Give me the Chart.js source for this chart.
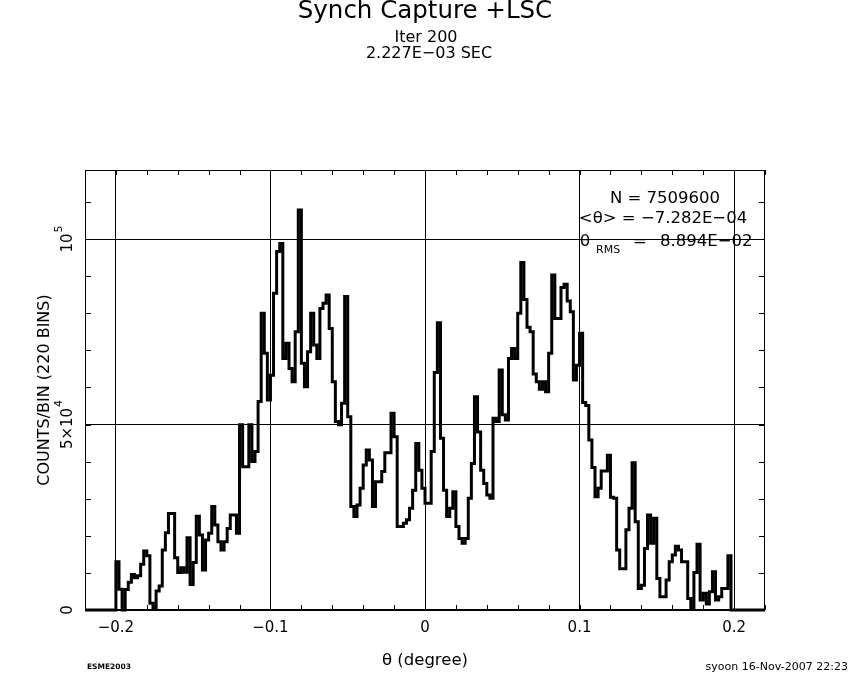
<!DOCTYPE html>
<html>
<head>
<meta charset="utf-8">
<script src="https://cdn.jsdelivr.net/npm/chart.js@4.4.0/dist/chart.umd.min.js"></script>
<style>
  html, body { margin: 0; padding: 0; background: #fff; }
  #wrap { width: 850px; height: 680px; }
</style>
</head>
<body>
<div id="wrap"><canvas id="histo" width="850" height="680"></canvas></div>
<script>
// 220 bins from -0.22 to 0.22 degree
const binLow = -0.22;
const binHigh = 0.22;
const binCount = 220;

// counts per bin from left to right
const counts = [
  0, 0, 0, 0, 0, 0, 0, 0, 0, 0, 0,
  13000, 5600, 0, 5500, 7500, 9600, 8700, 9200, 12300, 15900,
  14600, 1800, 500, 5100, 6500, 16200, 20800, 26000, 26000, 14100,
  10100, 11400, 10200, 19500, 6900, 12800, 25300, 20200, 10800, 18900,
  20700, 27900, 22900, 18400, 16200, 18400, 22000, 25600, 25600, 20700,
  49900, 38600, 38600, 49900, 40000, 42700, 56200, 80000, 69200, 56600,
  63300, 85400, 96600, 98800, 67800, 71900, 65100, 61500, 75000, 107800,
  66500, 60200, 69600, 80000, 71400, 67800, 81300, 82700, 84900, 75900,
  61500, 50800, 49900, 55700, 84500, 52100, 27900, 25200, 28300, 32800,
  39100, 43100, 40400, 27900, 34600, 34600, 37300, 42400, 42400, 53000,
  46700, 22500, 22500, 23400, 24300, 27400, 32300, 44900, 37700, 32800,
  28800, 28800, 42700, 64000, 77400, 46300, 32300, 25200, 27400, 31900,
  22500, 19300, 18000, 19300, 30100, 39500, 57500, 48000, 37700, 34100,
  31000, 30100, 51700, 50800, 64700, 52600, 51200, 67800, 70500, 67800,
  80000, 93700, 83700, 76200, 75000, 63600, 61500, 59500, 61500, 58800,
  69200, 90300, 78600, 78600, 86900, 87800, 83300, 80400, 62000, 66000,
  74600, 55900, 55100, 45800, 38400, 30500, 32800, 37500, 37500, 41700,
  30400, 30100, 16200, 11100, 11100, 21600, 27400, 39700, 23800, 5800,
  6700, 16600, 25600, 18000, 24700, 8500, 3600, 3600, 8100, 13000,
  14800, 17200, 16200, 13000, 13000, 3100, 400, 10100, 17700, 2700,
  4500, 1600, 4900, 10300, 2700, 3600, 5800, 5800, 14600, 0,
  0, 0, 0, 0, 0, 0, 0, 0, 0
];

const xTickValues = [-0.2, -0.1, 0, 0.1, 0.2];
const yTickValues = [0, 50000, 100000];
const yTickLabels = [['0', ''], ['5\u00d710', '4'], ['10', '5']];
const yMax = 118600;

const FONT = '"DejaVu Sans", "Liberation Sans", sans-serif';

const binWidth = (binHigh - binLow) / binCount;
const points = counts.map((c, i) => ({ x: binLow + i * binWidth, y: c }));
points.push({ x: binHigh, y: 0 });

function minus(v) {
  return v < 0 ? '\u2212' + Math.abs(v) : String(v);
}

// frame, inward minor ticks and all the loose texts
const decor = {
  id: 'decor',
  beforeDatasetsDraw(chart) {
    const { ctx, chartArea: a, scales: { x, y } } = chart;
    ctx.save();
    ctx.strokeStyle = '#000';
    ctx.lineWidth = 1;
    ctx.strokeRect(a.left + 0.5, a.top + 0.5, a.right - a.left - 1, a.bottom - a.top - 1);
    ctx.beginPath();
    for (let k = -11; k <= 11; k++) {
      const px = Math.round(x.getPixelForValue(k * 0.02)) + 0.5;
      ctx.moveTo(px, a.bottom); ctx.lineTo(px, a.bottom - 5);
      ctx.moveTo(px, a.top); ctx.lineTo(px, a.top + 5);
    }
    for (let v = 0; v <= yMax; v += 10000) {
      const py = Math.round(y.getPixelForValue(v)) + 0.5;
      ctx.moveTo(a.left, py); ctx.lineTo(a.left + 6, py);
      ctx.moveTo(a.right, py); ctx.lineTo(a.right - 6, py);
    }
    ctx.stroke();
    ctx.restore();
  },
  afterDraw(chart) {
    const { ctx, scales: { y } } = chart;
    ctx.save();
    ctx.fillStyle = '#000';
    ctx.textBaseline = 'middle';
    ctx.textAlign = 'center';

    ctx.font = '24.5px ' + FONT;
    ctx.fillText('Synch Capture +LSC', 425, 12);
    ctx.font = '16px ' + FONT;
    ctx.fillText('Iter 200', 426, 38);
    ctx.fillText('2.227E\u221203 SEC', 429, 54);

    // statistics box
    ctx.font = '16.5px ' + FONT;
    ctx.fillText('N = 7509600', 665, 199);
    ctx.fillText('<\u03b8> = \u22127.282E\u221204', 663, 219);
    ctx.textAlign = 'left';
    ctx.fillText('\u03b8', 580, 242);
    ctx.font = '11px ' + FONT;
    ctx.fillText('RMS', 596, 250);
    ctx.font = '16.5px ' + FONT;
    ctx.fillText('=', 633, 242);
    ctx.fillText('8.894E\u221202', 660, 242);

    // rotated y tick labels
    yTickValues.forEach((v, i) => {
      const py = y.getPixelForValue(v);
      const [main, sup] = yTickLabels[i];
      ctx.save();
      ctx.translate(68, py);
      ctx.rotate(-Math.PI / 2);
      ctx.font = '15px ' + FONT;
      const wm = ctx.measureText(main).width;
      ctx.font = '11px ' + FONT;
      const ws = sup ? ctx.measureText(sup).width + 1 : 0;
      const start = -(wm + ws) / 2;
      ctx.textAlign = 'left';
      ctx.font = '15px ' + FONT;
      ctx.fillText(main, start, 0);
      if (sup) {
        ctx.font = '11px ' + FONT;
        ctx.fillText(sup, start + wm + 1, -9);
      }
      ctx.restore();
    });

    // axis titles
    ctx.save();
    ctx.translate(45, 390);
    ctx.rotate(-Math.PI / 2);
    ctx.textAlign = 'center';
    ctx.font = '16px ' + FONT;
    ctx.fillText('COUNTS/BIN (220 BINS)', 0, 0);
    ctx.restore();

    ctx.textAlign = 'center';
    ctx.font = '16.5px ' + FONT;
    ctx.fillText('\u03b8 (degree)', 425, 661);

    // footer
    ctx.textAlign = 'left';
    ctx.font = 'bold 7.5px ' + FONT;
    ctx.fillText('ESME2003', 87, 667);
    ctx.textAlign = 'right';
    ctx.font = '11px ' + FONT;
    ctx.fillText('syoon 16-Nov-2007 22:23', 848, 667);
    ctx.restore();
  }
};

const ctx = document.getElementById('histo').getContext('2d');

const histoChart = new Chart(ctx, {
  type: 'line',
  data: {
    datasets: [{
      data: points,
      borderColor: '#000',
      borderWidth: 3,
      borderJoinStyle: 'miter',
      borderCapStyle: 'butt',
      stepped: 'after',
      pointRadius: 0,
      fill: false,
      clip: 4
    }]
  },
  options: {
    responsive: false,
    animation: false,
    layout: { padding: { top: 170, right: 85, left: 0, bottom: 0 } },
    plugins: {
      legend: { display: false },
      tooltip: { enabled: false }
    },
    scales: {
      x: {
        type: 'linear',
        min: binLow,
        max: binHigh,
        afterBuildTicks: scale => { scale.ticks = xTickValues.map(v => ({ value: v })); },
        afterFit: scale => { scale.height = 70; },
        border: { display: false },
        grid: { color: '#000', lineWidth: 1, drawTicks: false },
        ticks: {
          color: '#000',
          padding: 9,
          maxRotation: 0,
          font: { family: FONT, size: 15 },
          callback: v => minus(v)
        }
      },
      y: {
        min: 0,
        max: yMax,
        afterBuildTicks: scale => { scale.ticks = yTickValues.map(v => ({ value: v })); },
        afterFit: scale => { scale.width = 85; },
        border: { display: false },
        grid: { color: '#000', lineWidth: 1, drawTicks: false },
        ticks: { display: false }
      }
    }
  },
  plugins: [decor]
});
</script>
</body>
</html>
